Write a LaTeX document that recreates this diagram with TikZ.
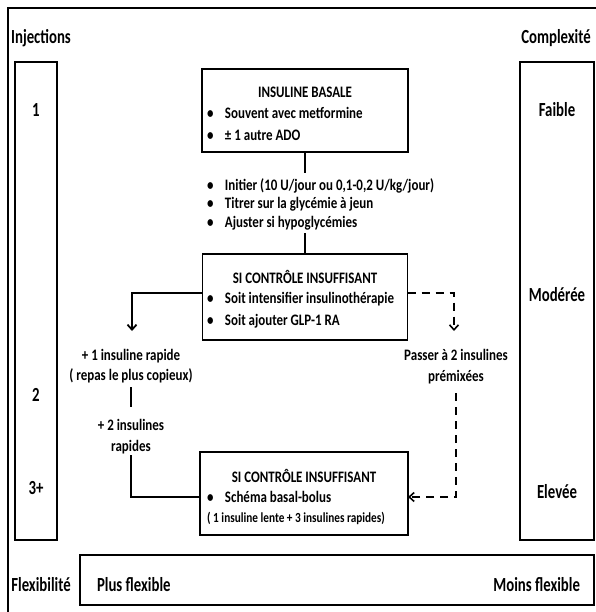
\documentclass[tikz,border=0pt]{standalone}
\usepackage{fontspec}
\setmainfont{Carlito}[FakeStretch=0.81]
\newfontfamily\labfamily{Carlito}[FakeStretch=0.74]
\usetikzlibrary{arrows.meta}
\begin{document}
\begin{tikzpicture}[x=1pt,y=-1pt,
  every node/.style={inner sep=0pt, outer sep=0pt},
  txt/.style={font=\bfseries\fontsize{16}{19}\selectfont},
  lab/.style={font=\labfamily\bfseries\fontsize{20}{24}\selectfont},
  small/.style={font=\bfseries\fontsize{13.9}{16}\selectfont},
  box/.style={draw, line width=1.4pt},
  conn/.style={line width=1.8pt},
  dashconn/.style={line width=1.6pt, dash pattern=on 8pt off 6pt},
  tip/.style={-{Straight Barb[length=5pt,width=9pt]}}
]
\newcommand{\bl}{\makebox[18pt][l]{•}}
\useasboundingbox (0,0) rectangle (595,612);
\draw[line width=1.2pt] (8,8) rectangle (600,620);

% headers
\node[lab, anchor=base] (hinj) at (41,43.4) {Injections};
\node[lab, anchor=base] (hcpx) at (556,43.4) {Complexité};

% left column
\node[box, minimum width=42pt, minimum height=478pt] (colL) at (36,301) {};
\node[lab, anchor=base] (i1) at (36,116.4) {1};
\node[lab, anchor=base] (i2) at (36,401.4) {2};
\node[lab, anchor=base] (i3) at (36,494.4) {3+};

% right column
\node[box, minimum width=74pt, minimum height=478pt] (colR) at (557,301) {};
\node[lab, anchor=base] (k1) at (557,116.4) {Faible};
\node[lab, anchor=base] (k2) at (557,301.4) {Modérée};
\node[lab, anchor=base] (k3) at (557,498.4) {Elevée};

% flexibility
\node[lab, anchor=base] (hflex) at (41,591.4) {Flexibilité};
\node[box, minimum width=514pt, minimum height=50pt] (flex) at (337,580) {};
\node[lab, anchor=base west] (f1) at (97,591.4) {Plus flexible};
\node[lab, anchor=base east] (f2) at (580,591.4) {Moins flexible};

% box 1
\node[box, minimum width=206pt, minimum height=83pt] (b1) at (305,110.5) {};
\node[txt, anchor=base] (b1t) at (305,97.2) {INSULINE BASALE};
\node[txt, anchor=base west] (b1a) at (207,118.2) {\bl Souvent avec metformine};
\node[txt, anchor=base west] (b1b) at (207,140.2) {\bl ± 1 autre ADO};

% middle steps
\node[txt, anchor=base west] (s1) at (207,190.2) {\bl Initier (10 U/jour ou 0,1-0,2 U/kg/jour)};
\node[txt, anchor=base west] (s2) at (207,208.2) {\bl Titrer sur la glycémie à jeun};
\node[txt, anchor=base west] (s3) at (207,227.2) {\bl Ajuster si hypoglycémies};

% box 2
\node[box, minimum width=205pt, minimum height=86pt] (b2) at (305,297) {};
\node[txt, anchor=base] (b2t) at (305,283.2) {SI CONTRÔLE INSUFFISANT};
\node[txt, anchor=base west] (b2a) at (207,303.2) {\bl Soit intensifier insulinothérapie};
\node[txt, anchor=base west] (b2b) at (207,325.2) {\bl Soit ajouter GLP-1 RA};

% left branch texts
\node[txt, anchor=base] (r1a) at (131,360.2) {+ 1 insuline rapide};
\node[txt, anchor=base] (r1b) at (131,380.2) {( repas le plus copieux)};
\node[txt, anchor=base] (r2a) at (131,430.2) {+ 2 insulines};
\node[txt, anchor=base] (r2b) at (131,451.2) {rapides};

% right branch texts
\node[txt, anchor=base] (pa) at (456,360.2) {Passer à 2 insulines};
\node[txt, anchor=base] (pb) at (456,381.2) {prémixées};

% box 3
\node[box, minimum width=208pt, minimum height=83pt] (b3) at (304,493.5) {};
\node[txt, anchor=base] (b3t) at (304,482.2) {SI CONTRÔLE INSUFFISANT};
\node[txt, anchor=base west] (b3a) at (207,502.2) {\bl Schéma basal-bolus};
\node[small, anchor=base] (b3b) at (296,522.5) {( 1 insuline lente + 3 insulines rapides)};

% coordinates
\coordinate (c1) at (305,173);
\coordinate (c2) at (305,233);
\coordinate (a1) at (132,331);
\coordinate (a2) at (454,331);
\coordinate (c3) at (131,387);
\coordinate (c4) at (131,407);
\coordinate (c5) at (131,455);
\coordinate (c6) at (456,393);

% connectors
\draw[conn] (b1.south) -- (c1);
\draw[conn] (c2) -- (b2.north);
\draw[conn, tip] ([yshift=4pt]b2.west) -| (a1);
\draw[conn] (c3) -- (c4);
\draw[conn] (c5) |- ([yshift=-3.5pt]b3.west);
\draw[dashconn, tip] ([yshift=4pt]b2.east) -| (a2);
\draw[dashconn, tip] (c6) |- ([yshift=-3.5pt]b3.east);
\end{tikzpicture}
\end{document}
